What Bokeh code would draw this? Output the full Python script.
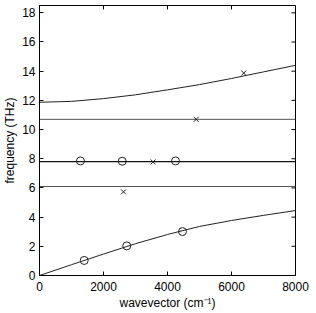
import math
from bokeh.plotting import figure
from bokeh.models import Range1d, FixedTicker
from bokeh.embed import file_html
from bokeh.resources import INLINE

# --- data ---
k_curve = [0, 1000, 2000, 3000, 4000, 5000, 6000, 7000, 8000]
acoustic = [0.0, 0.74, 1.47, 2.18, 2.81, 3.36, 3.77, 4.12, 4.45]
upper = [11.87, 11.93, 12.12, 12.38, 12.72, 13.08, 13.5, 13.95, 14.4]
k_flat = [0, 8000]
flat_a = [6.1, 6.1]
flat_b = [7.8, 7.8]
flat_c = [10.7, 10.7]

circ_k = [1397, 2728, 4469, 1280, 2585, 4250]
circ_f = [1.03, 2.03, 3.01, 7.85, 7.83, 7.85]
cross_k = [2625, 3550, 4895, 6385]
cross_f = [5.73, 7.78, 10.7, 13.87]

x_ticks = [0, 2000, 4000, 6000, 8000]
y_ticks = [0, 2, 4, 6, 8, 10, 12, 14, 16, 18]
X_MAX = 8000
Y_MAX = 18.5

FONT = "Liberation Sans"

p = figure(width=316, height=313, output_backend="svg", toolbar_location=None,
           x_range=Range1d(0, X_MAX), y_range=Range1d(0, Y_MAX),
           min_border_left=39, min_border_right=21, min_border_top=5, min_border_bottom=38)
p.grid.visible = False
p.outline_line_color = "black"
p.outline_line_width = 1
p.background_fill_color = "white"
p.border_fill_color = "white"

for ax, ticks in ((p.xaxis[0], x_ticks), (p.yaxis[0], y_ticks)):
    ax.ticker = FixedTicker(ticks=ticks)
    ax.major_tick_in = 4
    ax.major_tick_out = 0
    ax.minor_tick_line_color = None
    ax.axis_line_color = "black"
    ax.major_tick_line_color = "black"
    ax.major_label_text_font = FONT
    ax.major_label_text_font_size = "12px"
    ax.major_label_text_color = "black"
    ax.axis_label_text_font = FONT
    ax.axis_label_text_font_size = "12px"
    ax.axis_label_text_font_style = "normal"
    ax.axis_label_text_color = "black"

p.xaxis[0].axis_label = "wavevector (cm\u207b\u00b9)"
p.yaxis[0].axis_label = "frequency (THz)"
p.xaxis[0].major_label_standoff = 6
p.xaxis[0].axis_label_standoff = 2
p.yaxis[0].major_label_standoff = 4
p.yaxis[0].axis_label_standoff = 2

# inward ticks on the top and right edges of the box (clipped to the frame)
p.scatter(x_ticks, [Y_MAX] * len(x_ticks), marker="dash", angle=math.pi / 2,
          size=8, line_color="black", line_width=1)
p.scatter([X_MAX] * len(y_ticks), y_ticks, marker="dash", angle=0,
          size=8, line_color="black", line_width=1)

p.line(k_flat, flat_a, line_color="#555555", line_width=1)
p.line(k_flat, flat_b, line_color="#111111", line_width=1.3)
p.line(k_flat, flat_c, line_color="#555555", line_width=1)
p.line(k_curve, acoustic, line_color="#222222", line_width=1)
p.line(k_curve, upper, line_color="#222222", line_width=1)

p.scatter(circ_k, circ_f, marker="circle", size=8, fill_color=None,
          line_color="#222222", line_width=1)
p.scatter(cross_k, cross_f, marker="x", size=7, line_color="#222222", line_width=1)

open("out.html", "w").write(file_html(p, INLINE))
